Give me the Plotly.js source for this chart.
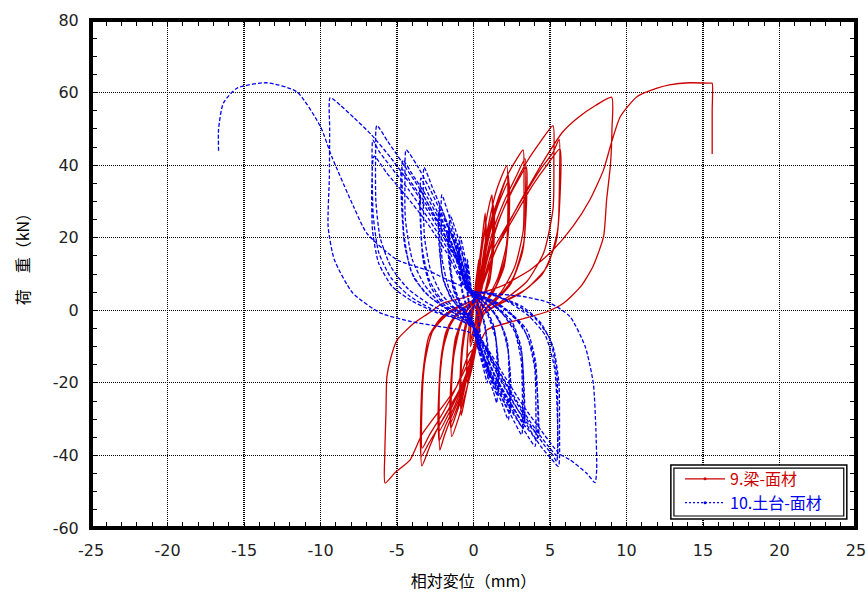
<!DOCTYPE html>
<html>
<head>
<meta charset="utf-8">
<script src="https://cdn.plot.ly/plotly-3.0.1.min.js"></script>
<style>html,body{margin:0;padding:0;background:#fff;}#chart{width:868px;height:593px;}</style>
</head>
<body>
<div id="chart"></div>
<script>
// ---- Series 9.梁-面材 (red, solid): displacement (mm) and load (kN), cycle by cycle
const redX = [
  0, 0.1, 0.25, 0.35, 0.34, 0.28, 0.2, 0.12, 0, -0.2, -0.19, -0.1, 0.05,
  0.15, 0.3, 0.38, 0.36, 0.25, 0.12, -0.05, -0.22, -0.2, -0.08, 0.1,
  0.2, 0.4, 0.6, 0.76, 0.78, 0.7, 0.45, 0.25, 0.2, 0.05, -0.2, -0.4, -0.42, -0.35, -0.15, 0.1,
  0.3, 0.5, 0.7, 0.82, 0.8, 0.6, 0.35, 0.25, 0.05, -0.2, -0.44, -0.43, -0.3, -0.1, 0.15,
  0.3, 0.5, 0.8, 1.0, 1.2, 1.25, 1.15, 0.8, 0.45, 0.3, 0.1, -0.25, -0.55, -0.8, -0.83, -0.72, -0.45, -0.15, 0.2,
  0.4, 0.7, 1.0, 1.3, 1.3, 1.1, 0.7, 0.35, 0.25, -0.1, -0.5, -0.85, -0.87, -0.7, -0.4, 0, 0.3,
  0.45, 0.8, 1.1, 1.35, 1.33, 1.05, 0.6, 0.3, 0.15, -0.2, -0.6, -0.88, -0.86, -0.65, -0.3, 0.2,
  0.3, 0.6, 1.0, 1.5, 2.17, 2.25, 2.15, 1.6, 0.9, 0.4, 0.25, -0.1, -0.6, -1.0, -1.42, -1.46, -1.3, -0.9, -0.4, 0.2,
  0.5, 0.9, 1.4, 1.9, 2.26, 2.3, 2.1, 1.5, 0.8, 0.35, 0.1, -0.35, -0.85, -1.2, -1.48, -1.5, -1.25, -0.8, -0.3, 0.3,
  0.55, 1.0, 1.6, 2.3, 2.32, 2.0, 1.3, 0.6, 0.3, 0, -0.5, -1.0, -1.5, -1.48, -1.2, -0.7, -0.1, 0.3,
  0.4, 0.8, 1.4, 2.2, 2.8, 3.24, 3.3, 3.25, 2.7, 1.8, 0.9, 0.4, 0.2, -0.3, -0.9, -1.5, -1.9, -2.2, -2.25, -2.2, -1.95, -1.5, -0.9, -0.3, 0.2,
  0.6, 1.2, 2.0, 2.8, 3.37, 3.4, 3.3, 2.6, 1.6, 0.7, 0.3, 0, -0.55, -1.2, -1.8, -2.25, -2.28, -2.15, -1.8, -1.2, -0.5, 0.3,
  0.7, 1.4, 2.3, 3.0, 3.45, 3.45, 3.2, 2.4, 1.3, 0.5, 0.25, -0.2, -0.8, -1.5, -2.28, -2.27, -2.05, -1.6, -0.9, -0.2, 0.3,
  0.4, 0.9, 1.6, 2.5, 3.5, 4.3, 5.2, 5.25, 5.2, 4.6, 3.5, 2.2, 1.1, 0.5, 0.3, -0.1, -0.8, -1.6, -2.4, -2.9, -3.38, -3.45, -3.38, -3.1, -2.6, -1.8, -0.8, 0.2,
  0.5, 1.2, 2.4, 3.5, 4.4, 5.2, 5.6, 5.62, 5.5, 4.8, 3.5, 2.0, 0.9, 0.4, 0.2, -0.4, -1.3, -2.2, -2.9, -3.42, -3.45, -3.3, -2.9, -2.1, -1.0, 0.3,
  0.6, 1.5, 2.7, 3.8, 4.8, 5.65, 5.66, 5.4, 4.5, 3.0, 1.6, 0.7, 0.3, -0.2, -1.1, -2.1, -2.9, -3.35, -3.38, -3.2, -2.7, -1.8, -0.7, 0.3,
  0.6, 1.6, 2.8, 4.0, 5.0, 5.8, 6.8, 8.0, 9.03, 9.05, 8.95, 8.7, 8.5, 7.8, 7.0, 5.9, 4.8, 3.0, 0.87,
  0.4, -0.3, -1.1, -2.18, -3.38, -4.14, -5.12, -5.78, -5.8, -5.72, -5.66, -5.4, -5.0, -3.9, -3.0, -1.97, -0.8, 0.43,
  1.74, 3.7, 5.2, 6.5, 7.6, 8.5, 9.0, 9.6, 10.7, 12.0, 12.8, 14.1, 15.5, 15.6, 15.6, 15.6
];
const redY = [
  0, 6, 11, 14, 9, 4, 1, -4, -7, -10, -6, -2, 1,
  5, 10, 12.5, 7, 2, -3, -6, -9, -5, -1, 2,
  5, 14, 21, 26.8, 20, 11, 4, 0, -6, -11, -16, -20, -14, -7, -1, 2,
  6, 15, 21, 24.5, 16, 7, 2, -4, -10, -14, -18.5, -12, -5, 0, 3,
  6, 15, 24, 28.5, 31.8, 24, 14, 6, 1, -5, -11, -18, -24, -29, -21, -11, -4, 0, 3,
  8, 17, 24, 29, 20, 10, 4, 0, -6, -13, -20, -26.5, -18, -8, -2, 1.5, 3,
  9, 18, 24, 27.5, 18, 8, 3, -2, -8, -15, -21, -25, -17, -7, -1, 3,
  5, 14, 24, 33, 39.8, 30, 18, 9, 3, -1, -8, -16, -24, -30, -34.8, -25, -13, -5, 0, 3,
  9, 19, 28, 34, 37.3, 27, 15, 7, 2, -2, -9, -17, -25, -29.5, -32.5, -22, -10, -3, 1, 3.5,
  10, 20, 29, 35.5, 24, 12, 5, 1, -4, -11, -19, -26, -31, -20, -8, -2, 2, 3.5,
  6, 16, 27, 37, 41.5, 44.2, 35, 22, 12, 5, 1, -2, -9, -17, -24, -30, -34.5, -38.5, -30, -19, -10, -4, -0.5, 1.5, 3,
  10, 21, 30, 37, 41.7, 31, 19, 9, 3.5, 0, -5, -11, -19, -26, -31.5, -36, -26, -15, -6, -1.5, 1, 3.5,
  11, 22, 31, 36.5, 39.5, 28, 16, 7, 2, -1, -7, -14, -21, -27.5, -33.5, -23, -11, -4, 0, 2, 3.5,
  5, 14, 24, 33, 41, 46, 50.9, 42, 28, 16, 8, 3.5, 0.5, -2, -8, -14, -21, -27, -33, -38, -42.9, -34, -24, -12, -5, -1, 1.5, 3,
  6, 16, 25, 33, 39, 43.5, 47.1, 36, 22, 12, 6, 2.5, 0, -3, -9, -17, -25, -31.5, -36.5, -40.3, -30, -17, -7, -2, 1, 3.5,
  7, 17, 26, 34, 40, 44.5, 32, 19, 10, 4.5, 1.5, -1, -6, -13, -21, -29, -34.5, -38, -28, -15, -6, -1.5, 1.5, 3.5,
  8, 18, 28, 37, 44, 49, 53, 56.5, 58.7, 50, 40, 30.4, 20.3, 12, 6.5, 2.0, -0.4, -2.6, -5.4,
  -9, -12, -21, -27.4, -34.3, -41.2, -44.7, -47.6, -40, -28, -18.3, -13, -8.2, -3.6, -1, 2.0, 3.3, 4.7,
  6.5, 11.1, 16.6, 23.1, 30.4, 38.7, 46, 53.4, 58.9, 61.2, 62.1, 62.7, 62.6, 62.6, 55, 43.1
];

// ---- Series 10.土台-面材 (blue, dashed)
const blueX = [
  0, -0.15, -0.3, -0.4, -0.42, -0.35, -0.2, 0, 0.2, 0.4, 0.42, 0.3, 0.05,
  -0.1, -0.28, -0.44, -0.45, -0.32, -0.1, 0.15, 0.3, 0.44, 0.43, 0.25, 0,
  -0.1, -0.35, -0.6, -0.87, -0.9, -0.8, -0.5, -0.2, 0.1, 0.4, 0.65, 0.9, 0.93, 0.8, 0.45, 0.05,
  -0.2, -0.5, -0.75, -0.95, -0.93, -0.7, -0.35, 0, 0.3, 0.6, 0.95, 0.94, 0.7, 0.3, -0.05,
  -0.1, -0.4, -0.8, -1.2, -1.53, -1.57, -1.45, -1.0, -0.5, -0.1, 0.2, 0.6, 1.0, 1.3, 1.52, 1.56, 1.45, 1.0, 0.5, 0,
  -0.2, -0.6, -1.0, -1.35, -1.6, -1.6, -1.35, -0.9, -0.4, 0, 0.4, 0.85, 1.25, 1.58, 1.6, 1.4, 0.9, 0.35, -0.05,
  -0.3, -0.7, -1.15, -1.62, -1.62, -1.3, -0.8, -0.3, 0.1, 0.55, 1.0, 1.4, 1.62, 1.6, 1.3, 0.8, 0.2, -0.1,
  -0.2, -0.6, -1.1, -1.6, -2.07, -2.12, -2.05, -1.6, -1.0, -0.4, 0.1, 0.6, 1.2, 1.8, 2.28, 2.33, 2.25, 1.8, 1.1, 0.4, -0.1,
  -0.3, -0.8, -1.3, -1.8, -2.2, -2.22, -2.05, -1.5, -0.8, -0.2, 0.3, 0.9, 1.5, 2.0, 2.38, 2.38, 2.2, 1.6, 0.8, 0,
  -0.35, -0.9, -1.5, -2.0, -2.28, -2.25, -1.95, -1.3, -0.6, 0, 0.5, 1.1, 1.7, 2.2, 2.42, 2.4, 2.1, 1.4, 0.6, -0.1,
  -0.2, -0.7, -1.3, -2.0, -2.7, -3.23, -3.28, -3.2, -2.8, -2.1, -1.2, -0.4, 0.1, 0.7, 1.4, 2.1, 2.7, 3.15, 3.2, 3.12, 2.7, 1.9, 1.0, 0.2,
  -0.35, -0.9, -1.6, -2.4, -3.0, -3.44, -3.46, -3.35, -2.9, -2.1, -1.1, -0.3, 0.2, 0.8, 1.6, 2.3, 2.9, 3.25, 3.28, 3.15, 2.6, 1.7, 0.8, 0,
  -0.4, -1.0, -1.8, -2.6, -3.2, -3.5, -3.48, -3.3, -2.8, -1.9, -0.9, -0.1, 0.4, 1.0, 1.8, 2.5, 3.0, 3.32, 3.3, 3.1, 2.5, 1.5, 0.5, -0.1,
  -0.2, -0.8, -1.8, -2.8, -3.7, -4.4, -4.48, -4.45, -4.0, -3.2, -2.2, -1.0, -0.1, 0.4, 1.2, 2.1, 3.0, 3.6, 4.02, 4.08, 4.0, 3.5, 2.7, 1.6, 0.5,
  -0.3, -1.0, -2.0, -3.0, -4.0, -4.62, -4.65, -4.55, -4.1, -3.2, -2.0, -0.8, 0, 0.5, 1.3, 2.3, 3.2, 3.8, 4.15, 4.2, 4.05, 3.5, 2.5, 1.3, 0.3,
  -0.4, -1.2, -2.2, -3.3, -4.2, -4.7, -4.7, -4.5, -3.9, -2.8, -1.6, -0.5, 0.1, 0.7, 1.6, 2.6, 3.5, 4.1, 4.25, 4.2, 3.9, 3.2, 2.1, 0.9, 0,
  -0.3, -1.2, -2.4, -3.6, -4.7, -5.6, -6.32, -6.4, -6.38, -6.1, -5.4, -4.3, -3.0, -1.6, -0.4, 0.3, 1.2, 2.3, 3.4, 4.4, 5.1, 5.55, 5.62, 5.58, 5.2, 4.4, 3.2, 1.8, 0.6,
  -0.4, -1.5, -2.9, -4.2, -5.4, -6.2, -6.58, -6.62, -6.55, -6.2, -5.4, -4.2, -2.8, -1.3, -0.2, 0.4, 1.4, 2.6, 3.7, 4.6, 5.2, 5.44, 5.5, 5.45, 5.0, 4.1, 2.8, 1.4, 0.3,
  -0.5, -1.7, -3.1, -4.5, -5.7, -6.5, -6.65, -6.6, -6.2, -5.3, -4.0, -2.5, -1.0, 0, 0.6, 1.7, 2.9, 4.0, 4.9, 5.45, 5.48, 5.3, 4.7, 3.6, 2.2, 0.9,
  0, -1.0, -2.5, -4.0, -5.4, -6.7, -7.8, -8.7, -9.37, -9.4, -9.42, -9.5, -9.1, -7.9, -6.1, -4.2, -2.2, -0.3,
  0.8, 2.0, 3.2, 4.4, 5.6, 6.3, 7.4, 7.94, 8.05, 8.0, 7.83, 7.3, 6.3, 5.0, 3.24, 1.5, 0.3,
  -1.5, -3.0, -5.0, -6.97, -7.84, -9.26, -10.0, -11.54, -13.5, -15.46, -16.35, -16.66, -16.66
];
const blueY = [
  0, 6, 11, 14, 9, 4, 0, -5, -9, -12, -7, -2, 2,
  4, 9, 12.5, 7, 2, -2, -6, -9, -11, -6, -1, 2.5,
  4, 10, 15.5, 20.3, 14, 7, 2, -2, -7, -12, -16, -20, -13, -6, 0, 3,
  5, 11, 15.5, 18.5, 11, 4, 0, -4, -9, -14, -18, -10, -3, 1.5, 4,
  4, 10, 17, 22.5, 26.3, 19, 10, 3.5, 0, -3, -8, -14, -19, -22.5, -25.5, -17, -8, -2, 2, 4,
  5, 11, 17, 21, 24, 16, 7, 2, -1, -4, -10, -16, -20.5, -23.5, -15, -6, -1, 2.5, 4.5,
  5.5, 12, 18, 22.5, 14, 5.5, 1, -2, -6, -12, -17, -20.5, -22, -13, -4, 0.5, 3.5, 4.5,
  4.5, 11, 19, 26, 31.8, 24, 14, 6, 1.5, -1.5, -6, -12, -19, -25, -30.2, -21, -11, -4, 0.5, 3.5, 4.5,
  5, 12, 19, 25, 29, 20, 10, 3.5, 0, -2.5, -8, -15, -21, -25.5, -28.5, -19, -8.5, -2, 2, 4.5,
  5.5, 12.5, 19.5, 24.5, 27, 18, 8, 2.5, -0.5, -3.5, -9, -15.5, -21, -25, -27, -17, -7, -1, 2.5, 4.5,
  4.5, 11, 19, 27, 34, 39.4, 31, 20, 11, 4.5, 0.5, -2, -6, -13, -20, -26, -31, -34.3, -25, -14, -6, -1, 2.5, 4.5,
  5, 12, 20, 27.5, 32.5, 36.4, 28, 17, 8.5, 3, 0, -2.5, -7, -14, -21, -26.5, -30.5, -32.5, -23, -12, -4.5, 0, 3, 4.5,
  5.5, 12.5, 20, 26.5, 31, 33.5, 25, 14, 6.5, 1.5, -1, -3.5, -8, -14.5, -21, -26, -29.5, -31, -21, -10, -3, 1, 3.5, 5,
  5, 14, 24, 33, 40, 44.2, 36, 25, 14, 7, 2, -1.5, -4, -8, -16, -24, -31, -35, -37.5, -28, -16, -7, -2, 2, 4,
  5.5, 14, 23, 31, 37.5, 41.4, 32, 21, 11, 5, 1, -2, -4.5, -9, -17, -25, -31, -34, -36, -26, -14, -5.5, -1, 2.5, 4.5,
  6, 14.5, 23, 30.5, 36, 39, 29, 18, 9, 3.5, 0, -2.5, -5, -10, -18, -25.5, -31, -34, -35, -24, -12, -4.5, 0, 3, 5,
  5, 15, 25, 34, 41, 46.5, 50.9, 42, 30, 20, 12, 6, 2, -1, -3, -6, -14, -23, -31, -37.5, -41, -43, -33, -20, -10, -3.5, 1, 3.5, 5,
  5.5, 15.5, 25, 33, 39.5, 44, 46.9, 38, 26, 16, 9, 4, 0.5, -2, -4, -7, -15, -24, -31.5, -37, -40, -41.7, -31, -18, -8, -2.5, 1.5, 4, 5,
  6, 15.5, 24.5, 32, 38, 42.5, 34, 22, 13, 6.5, 2.5, -0.5, -2.5, -5, -9, -17, -25.5, -32.5, -37.5, -40, -29, -16, -7, -1.5, 2.5, 5,
  5, 13, 24, 34, 42, 48.5, 53, 56.5, 58.6, 50, 36.8, 23, 14, 4.8, -0.7, -3, -4.5, -6,
  -10, -18, -26, -33, -39.5, -41.2, -44.9, -47.5, -44, -33, -20.1, -10, -1.7, 2.0, 3.8, 4.5, 5,
  8, 11, 13.9, 21.2, 28.6, 42.3, 50.6, 60.2, 62.7, 61.2, 57.1, 50, 43.4
];

// ---- Axis ticks and labels
const xTickVals = [-25, -20, -15, -10, -5, 0, 5, 10, 15, 20, 25];
const xTickText = ['-25', '-20', '-15', '-10', '-5', '0', '5', '10', '15', '20', '25'];
const yTickVals = [-60, -40, -20, 0, 20, 40, 60, 80];
const yTickText = ['-60', '-40', '-20', '0', '20', '40', '60', '80'];
const seriesNames = ['9.梁-面材', '10.土台-面材'];
const xTitle = '相対変位（mm）';
const yTitle = '荷　重（kN）';

const RED = '#cc0000';
const BLUE = '#0000ee';
const CJK = '"Noto Sans CJK JP", "Noto Sans", sans-serif';

const traces = [
  {x: redX, y: redY, type: 'scatter', mode: 'lines', showlegend: false,
   line: {color: RED, width: 1.3, shape: 'spline', smoothing: 0.6}, hoverinfo: 'skip'},
  {x: blueX, y: blueY, type: 'scatter', mode: 'lines', showlegend: false,
   line: {color: BLUE, width: 1.3, dash: '4px,2px', shape: 'spline', smoothing: 0.6}, hoverinfo: 'skip'},
  {x: [null], y: [null], type: 'scatter', mode: 'lines+markers',
   name: '<span style="color:' + RED + '">' + seriesNames[0] + '</span>',
   line: {color: RED, width: 1.3}, marker: {color: RED, size: 3}},
  {x: [null], y: [null], type: 'scatter', mode: 'lines+markers',
   name: '<span style="color:' + BLUE + '">' + seriesNames[1] + '</span>',
   line: {color: BLUE, width: 1.3, dash: '2px,2px'}, marker: {color: BLUE, size: 3}}
];

const axisCommon = {
  showline: true, linecolor: '#000', linewidth: 1, zeroline: false, mirror: 'allticks',
  ticks: 'inside', ticklen: 6, tickwidth: 1, tickcolor: '#000',
  showgrid: true, gridcolor: '#000', gridwidth: 1.2, griddash: '1px,1px',
  tickfont: {family: '"DejaVu Sans", sans-serif', size: 16, color: '#222'},
  fixedrange: true
};

const layout = {
  width: 868, height: 593,
  margin: {l: 91, r: 12, t: 20, b: 65},
  paper_bgcolor: '#fff', plot_bgcolor: '#fff',
  showlegend: true,
  xaxis: Object.assign({}, axisCommon, {
    range: [-25, 25], tickmode: 'array', tickvals: xTickVals, ticktext: xTickText,
    minor: {dtick: 1, ticks: 'inside', ticklen: 6, tickcolor: '#000', showgrid: false},
    ticklabelstandoff: 8,
    title: {text: xTitle, font: {family: CJK, size: 16, color: '#000'}, standoff: 16}
  }),
  yaxis: Object.assign({}, axisCommon, {
    range: [-60, 80], tickmode: 'array', tickvals: yTickVals, ticktext: yTickText,
    minor: {dtick: 5, ticks: 'inside', ticklen: 6, tickcolor: '#000', showgrid: false},
    ticklabelstandoff: 8,
    title: {text: ''}
  }),
  legend: {
    x: 0.77, y: 0.13, xanchor: 'left', yanchor: 'top',
    bgcolor: 'rgba(0,0,0,0)', borderwidth: 0,
    font: {family: CJK, size: 16},
    tracegroupgap: 0, itemwidth: 40
  },
  annotations: [
    {text: yTitle, xref: 'paper', yref: 'paper', x: -0.09, y: 0.537,
     xanchor: 'center', yanchor: 'middle', textangle: -90, showarrow: false,
     font: {family: CJK, size: 16, color: '#000'}}
  ],
  shapes: [
    {type: 'rect', xref: 'paper', yref: 'paper', x0: 0.758, x1: 0.988, y0: 0.0177, y1: 0.124,
     line: {color: '#000', width: 1.5}, fillcolor: '#fff', layer: 'above'},
    {type: 'rect', xref: 'paper', yref: 'paper', x0: 0.762, x1: 0.984, y0: 0.0236, y1: 0.118,
     line: {color: '#000', width: 1.2}, fillcolor: 'rgba(0,0,0,0)', layer: 'above'},
    {type: 'rect', xref: 'paper', yref: 'paper', x0: 0, x1: 1, y0: 0, y1: 1,
     line: {color: '#000', width: 4}, fillcolor: 'rgba(0,0,0,0)', layer: 'above'}
  ]
};

Plotly.newPlot('chart', traces, layout, {staticPlot: true, displayModeBar: false});
</script>
</body>
</html>
